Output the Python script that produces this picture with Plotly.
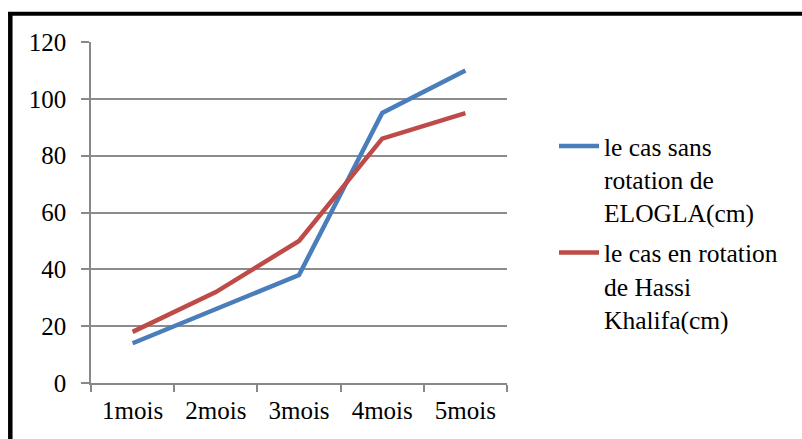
import plotly.graph_objects as go

categories = ["1mois", "2mois", "3mois", "4mois", "5mois"]
sans_rotation = [14, 26, 38, 95, 110]
en_rotation = [18, 32, 50, 86, 95]
series_names = ["le cas sans<br>rotation de<br>ELOGLA(cm)", "le cas en rotation<br>de Hassi<br>Khalifa(cm)"]
y_ticks = [0, 20, 40, 60, 80, 100, 120]

FONT = "Liberation Serif, Times New Roman, serif"
FS = 25

fig = go.Figure()
fig.add_trace(go.Scatter(x=categories, y=sans_rotation, mode="lines", name=series_names[0],
                         legendgroup="a", line=dict(color="#4A7EBB", width=4.5)))
fig.add_trace(go.Scatter(x=categories, y=en_rotation, mode="lines", name=series_names[1],
                         legendgroup="b", line=dict(color="#BE4B48", width=4.5)))

W, H = 802, 439
L, R, T, B = 91, 507, 42, 383
pw, ph = R - L, B - T

def px_x(p):
    return (p - L) / pw

def px_y(p):
    return (B - p) / ph

# outer frame (top and left edges)
fig.add_shape(type="line", xref="paper", yref="paper",
              x0=px_x(8), x1=px_x(805), y0=px_y(13.8), y1=px_y(13.8),
              line=dict(color="black", width=4))
fig.add_shape(type="line", xref="paper", yref="paper",
              x0=px_x(10.3), x1=px_x(10.3), y0=px_y(12), y1=px_y(445),
              line=dict(color="black", width=4.5))

fig.update_layout(
    width=W, height=H,
    margin=dict(l=L, r=W - R, t=T, b=H - B),
    paper_bgcolor="white", plot_bgcolor="white",
    font=dict(family=FONT, size=FS, color="black"),
    showlegend=True,
    legend=dict(x=px_x(554), y=px_y(123), xanchor="left", yanchor="top",
                valign="top", font=dict(family=FONT, size=25.5),
                tracegroupgap=4, itemwidth=40, bgcolor="rgba(0,0,0,0)"),
    xaxis=dict(type="category", range=[-0.5, 4.5], tickson="boundaries", ticks="outside", ticklen=7,
               tickcolor="#888888", tickwidth=1.5,
               showline=True, linecolor="#888888", linewidth=1.5,
               showgrid=False, tickfont=dict(size=FS), fixedrange=True,
               ticklabelstandoff=4),
    yaxis=dict(range=[0, 120], tickvals=y_ticks, ticks="outside", ticklen=8,
               tickcolor="#888888", tickwidth=1.5,
               showline=True, linecolor="#888888", linewidth=1.5,
               showgrid=True, gridcolor="#8c8c8c", gridwidth=1.5,
               zeroline=False, tickfont=dict(size=FS), ticklabelstandoff=10),
)

fig.write_html("out.html", config={"displayModeBar": False},
               post_script="document.body.style.margin='0';")
